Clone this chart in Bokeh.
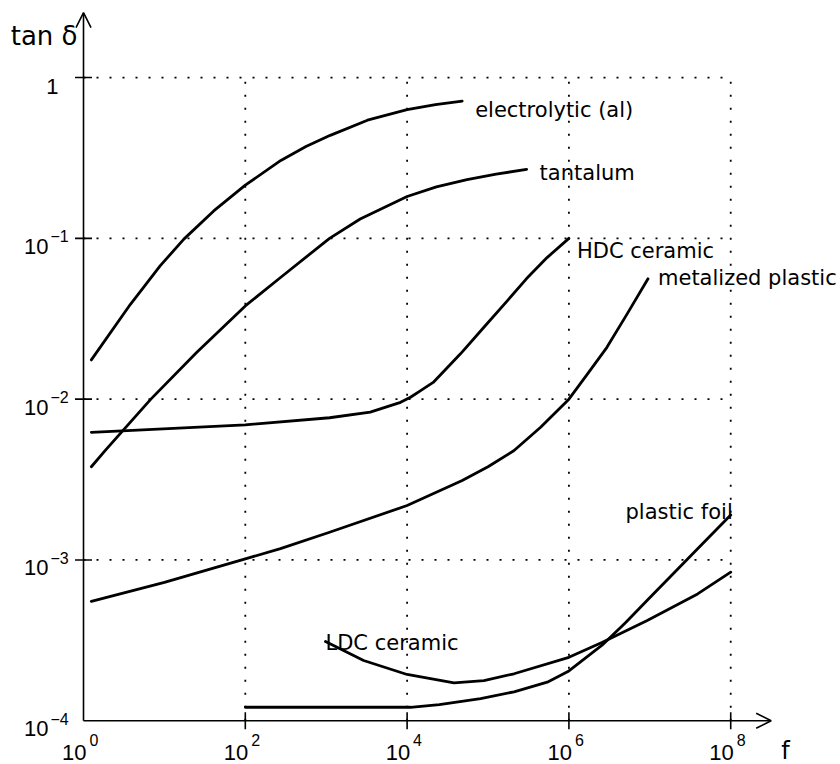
from bokeh.plotting import figure
from bokeh.models import Range1d, Arrow, OpenHead
from bokeh.core.properties import value
from bokeh.embed import file_html
from bokeh.resources import INLINE

# ---------------- data (frequency f in Hz, loss factor tan delta) ----------------
electrolytic_f = [1.25, 3.8, 8.9, 17.4, 40.7, 100, 275, 562, 1122, 3236, 1e4, 2.24e4, 4.79e4]
electrolytic_t = [0.01754, 0.0389, 0.0676, 0.0989, 0.148, 0.214, 0.305, 0.372, 0.437, 0.543, 0.631, 0.679, 0.713]

tantalum_f = [1.25, 1.86, 6.8, 25, 100, 275, 1100, 2630, 1e4, 2.3e4, 5.5e4, 1.26e5, 3.0e5]
tantalum_t = [0.0038, 0.0048, 0.01, 0.0195, 0.038, 0.0573, 0.1, 0.132, 0.182, 0.209, 0.232, 0.251, 0.268]

hdc_f = [1.25, 100, 1100, 3500, 8300, 1.1e4, 1.47e4, 2.1e4, 4.57e4, 8.9e4, 1.74e5, 3.0e5, 5.37e5, 1e6]
hdc_t = [0.00622, 0.00692, 0.00766, 0.0083, 0.00955, 0.01028, 0.0113, 0.0127, 0.01914, 0.028, 0.041,
         0.0562, 0.0759, 0.1]

metalized_f = [1.25, 10, 100, 272, 1100, 1e4, 4.8e4, 1e5, 2.1e5, 4.47e5, 1e6, 1.7e6, 2.95e6, 5.25e6, 9.5e6]
metalized_t = [5.53e-4, 7.26e-4, 1.016e-3, 1.175e-3, 1.486e-3, 2.18e-3, 3.12e-3, 3.8e-3, 4.79e-3, 6.68e-3,
               0.01, 0.01436, 0.021, 0.0339, 0.056]

foil_f = [100, 1.1e4, 2.5e4, 8.1e4, 2.1e5, 5.4e5, 1e6, 2.57e6, 5e6, 9.3e6, 2e7, 3.9e7, 1e8]
foil_t = [1.213e-4, 1.213e-4, 1.259e-4, 1.374e-4, 1.514e-4, 1.738e-4, 2.04e-4, 2.95e-4, 4.07e-4, 5.62e-4,
          8.32e-4, 1.175e-3, 1.905e-3]

ldc_f = [980, 2900, 1e4, 3.8e4, 8.9e4, 2.1e5, 1e6, 2.6e6, 9.3e6, 3.9e7, 1e8]
ldc_t = [3.11e-4, 2.37e-4, 1.94e-4, 1.72e-4, 1.778e-4, 1.96e-4, 2.48e-4, 3.08e-4, 4.2e-4, 6.15e-4, 8.4e-4]

x_ticks = [1, 1e2, 1e4, 1e6, 1e8]
x_tick_exp = ["0", "2", "4", "6", "8"]
y_ticks = [1e-4, 1e-3, 1e-2, 1e-1]
y_tick_exp = ["\u22124", "\u22123", "\u22122", "\u22121"]
grid_x = [1e2, 1e4, 1e6, 1e8]
grid_y = [1e-3, 1e-2, 1e-1, 1]

# ---------------- figure ----------------
X_LO, X_HI = 10 ** -1.026, 10 ** 9.357
Y_LO, Y_HI = 10 ** -4.272, 10 ** 0.479
X_TIP, Y_TIP = 10 ** 8.5, 10 ** 0.404

p = figure(width=840, height=764, x_axis_type="log", y_axis_type="log",
           x_range=Range1d(X_LO, X_HI), y_range=Range1d(Y_LO, Y_HI),
           x_axis_location=None, y_axis_location=None,
           toolbar_location=None, output_backend="svg", min_border=0)
p.outline_line_color = None
p.grid.grid_line_color = None
p.background_fill_color = "white"

# dotted grid box
p.segment(x0=[1] * len(grid_y), y0=grid_y, x1=[1e8] * len(grid_y), y1=grid_y,
          line_color="black", line_width=1.8, line_dash="2 11")
p.segment(x0=grid_x, y0=[1e-4] * len(grid_x), x1=grid_x, y1=[1] * len(grid_x),
          line_color="black", line_width=1.8, line_dash="2 11")

# axes with arrows
p.add_layout(Arrow(end=OpenHead(size=15, line_width=1.6, line_color="black"),
                   x_start=1, y_start=1e-4, x_end=X_TIP, y_end=1e-4,
                   line_width=1.6, line_color="black"))
p.add_layout(Arrow(end=OpenHead(size=15, line_width=1.6, line_color="black"),
                   x_start=1, y_start=1e-4, x_end=1, y_end=Y_TIP,
                   line_width=1.6, line_color="black"))

# ticks crossing the axes
p.scatter(x=[1] * 4, y=grid_y, marker="dash", size=17, line_color="black", line_width=1.6)
p.scatter(x=grid_x, y=[1e-4] * 4, marker="dash", size=17, angle=1.5708,
          line_color="black", line_width=1.6)

# curves
for fx, ty in [(electrolytic_f, electrolytic_t), (tantalum_f, tantalum_t), (hdc_f, hdc_t),
               (metalized_f, metalized_t), (foil_f, foil_t), (ldc_f, ldc_t)]:
    p.line(fx, ty, line_color="black", line_width=2.8, line_join="round", line_cap="round")

tick_font = value("Liberation Sans")
lab_font = value("DejaVu Sans")

# y tick labels
p.text(x=[1] * 4, y=y_ticks, text=["10"] * 4, x_offset=-35, y_offset=8,
       text_align="right", text_baseline="alphabetic", text_font=tick_font,
       text_font_size="22px", text_color="black")
p.text(x=[1] * 4, y=y_ticks, text=y_tick_exp, x_offset=-33, y_offset=-2,
       text_align="left", text_baseline="alphabetic", text_font=tick_font,
       text_font_size="16px", text_color="black")
p.text(x=[1], y=[1], text=["1"], x_offset=-25, y_offset=9,
       text_align="right", text_baseline="alphabetic", text_font=tick_font,
       text_font_size="22px", text_color="black")

# x tick labels
p.text(x=x_ticks, y=[1e-4] * 5, text=["10"] * 5, x_offset=3, y_offset=32,
       text_align="right", text_baseline="alphabetic", text_font=tick_font,
       text_font_size="22px", text_color="black")
p.text(x=x_ticks, y=[1e-4] * 5, text=x_tick_exp, x_offset=6, y_offset=19,
       text_align="left", text_baseline="alphabetic", text_font=tick_font,
       text_font_size="16px", text_color="black")

# axis titles
p.text(x=[1], y=[Y_TIP], text=["tan \u03b4"], x_offset=-6, y_offset=23,
       text_align="right", text_baseline="alphabetic", text_font=lab_font,
       text_font_size="26px", text_color="black")
p.text(x=[X_TIP], y=[1e-4], text=["f"], x_offset=10, y_offset=30,
       text_align="left", text_baseline="alphabetic", text_font=lab_font,
       text_font_size="24px", text_color="black")

# curve labels
labels = [
    (electrolytic_f[-1], electrolytic_t[-1], "electrolytic (al)", 13, 9, "left"),
    (tantalum_f[-1], tantalum_t[-1], "tantalum", 13, 4, "left"),
    (hdc_f[-1], hdc_t[-1], "HDC ceramic", 8, 13, "left"),
    (metalized_f[-1], metalized_t[-1], "metalized plastic", 10, -1, "left"),
    (foil_f[-1], foil_t[-1], "plastic foil", 2, -3, "right"),
    (ldc_f[0], ldc_t[0], "LDC ceramic", 0, 1, "left"),
]
for lx, ly, txt, dx, dy, al in labels:
    p.text(x=[lx], y=[ly], text=[txt], x_offset=dx, y_offset=dy, text_align=al,
           text_baseline="alphabetic", text_font=lab_font, text_font_size="21px",
           text_color="black")

open("out.html", "w").write(file_html(p, INLINE))
